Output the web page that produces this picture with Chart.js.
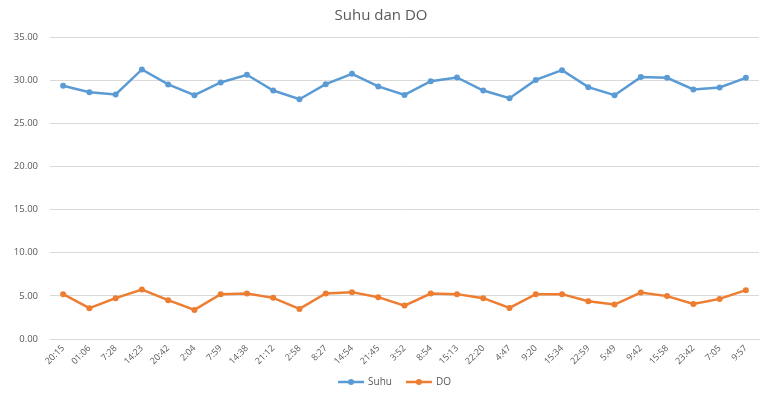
<!DOCTYPE html>
<html>
<head>
<meta charset="utf-8">
<script src="https://cdn.jsdelivr.net/npm/chart.js@4/dist/chart.umd.min.js"></script>
<style>
  html, body { margin: 0; padding: 0; background: #fff; }
  #wrap { width: 762px; height: 394px; position: relative; }
</style>
</head>
<body>
<div id="wrap"><canvas id="c"></canvas></div>
<script>
// Sampling times
const times = ['20:15','01:06','7:28','14:23','20:42','2:04','7:59','14:38','21:12','2:58',
  '8:27','14:54','21:45','3:52','8:54','15:13','22:20','4:47','9:20','15:34',
  '22:59','5:49','9:42','15:58','23:42','7:05','9:57'];

// Temperature (Suhu)
const suhu = [29.34, 28.60, 28.34, 31.24, 29.50, 28.26, 29.73, 30.62, 28.80, 27.79,
  29.53, 30.73, 29.27, 28.29, 29.88, 30.31, 28.80, 27.91, 30.03, 31.16,
  29.19, 28.26, 30.35, 30.27, 28.92, 29.15, 30.27];

// Dissolved oxygen (DO)
const dissolvedO2 = [5.20, 3.57, 4.73, 5.73, 4.50, 3.37, 5.20, 5.27, 4.77, 3.49,
  5.27, 5.43, 4.85, 3.87, 5.27, 5.20, 4.73, 3.60, 5.20, 5.20,
  4.38, 3.99, 5.38, 4.97, 4.07, 4.65, 5.66];

const seriesNames = ['Suhu', 'DO'];
const seriesColors = ['#5B9BD5', '#ED7D31'];

const TEXT = '#595959';
const FONT = "'Open Sans', 'Liberation Sans', sans-serif";

// Legend drawn under the axis: short line with a dot, then the name
const bottomLegend = {
  id: 'bottomLegend',
  afterDraw(chart) {
    const ctx = chart.ctx;
    ctx.save();
    ctx.font = '10px ' + FONT;
    ctx.textBaseline = 'middle';
    const lineLen = 26, gap = 4, itemGap = 14;
    const items = chart.data.datasets.map(ds => ({
      label: ds.label, color: ds.borderColor,
      w: lineLen + gap + ctx.measureText(ds.label).width
    }));
    const total = items.reduce((s, it) => s + it.w, 0) + itemGap * (items.length - 1);
    let x = (chart.chartArea.left + chart.chartArea.right) / 2 - total / 2 - 10;
    const y = chart.height - 12;
    items.forEach(it => {
      ctx.strokeStyle = it.color;
      ctx.lineWidth = 2.5;
      ctx.beginPath();
      ctx.moveTo(x, y);
      ctx.lineTo(x + lineLen, y);
      ctx.stroke();
      ctx.fillStyle = it.color;
      ctx.beginPath();
      ctx.arc(x + lineLen / 2, y, 3, 0, Math.PI * 2);
      ctx.fill();
      ctx.fillStyle = TEXT;
      ctx.fillText(it.label, x + lineLen + gap, y);
      x += it.w + itemGap;
    });
    ctx.restore();
  }
};

new Chart(document.getElementById('c'), {
  type: 'line',
  data: {
    labels: times,
    datasets: [
      { label: seriesNames[0], data: suhu, borderColor: seriesColors[0], backgroundColor: seriesColors[0] },
      { label: seriesNames[1], data: dissolvedO2, borderColor: seriesColors[1], backgroundColor: seriesColors[1] }
    ].map(ds => Object.assign(ds, {
      borderWidth: 2.5,
      pointRadius: 3,
      pointHoverRadius: 3,
      pointBorderWidth: 0,
      tension: 0,
      fill: false
    }))
  },
  options: {
    responsive: true,
    maintainAspectRatio: false,
    animation: false,
    layout: { padding: { left: 0, right: 0, top: 0, bottom: 25 } },
    plugins: {
      legend: { display: false },
      tooltip: { enabled: false },
      title: {
        display: true,
        text: 'Suhu dan DO',
        color: TEXT,
        font: { family: FONT, size: 15, weight: 'normal' },
        padding: { top: 7, bottom: 12 }
      }
    },
    scales: {
      x: {
        offset: true,
        grid: { display: false, drawTicks: false },
        border: { display: true, color: '#d9d9d9', width: 1 },
        ticks: {
          color: TEXT,
          font: { family: FONT, size: 9 },
          minRotation: 45,
          maxRotation: 45,
          padding: 4,
          autoSkip: false
        },
        afterFit(scale) { scale.height = 30; }
      },
      y: {
        min: 0,
        max: 35,
        grid: { color: '#d9d9d9', drawTicks: false },
        border: { display: false },
        ticks: {
          stepSize: 5,
          color: TEXT,
          font: { family: FONT, size: 9.5 },
          padding: 12,
          callback: v => v.toFixed(2)
        },
        afterFit(scale) { scale.width = 50; }
      }
    }
  },
  plugins: [bottomLegend]
});
</script>
</body>
</html>
